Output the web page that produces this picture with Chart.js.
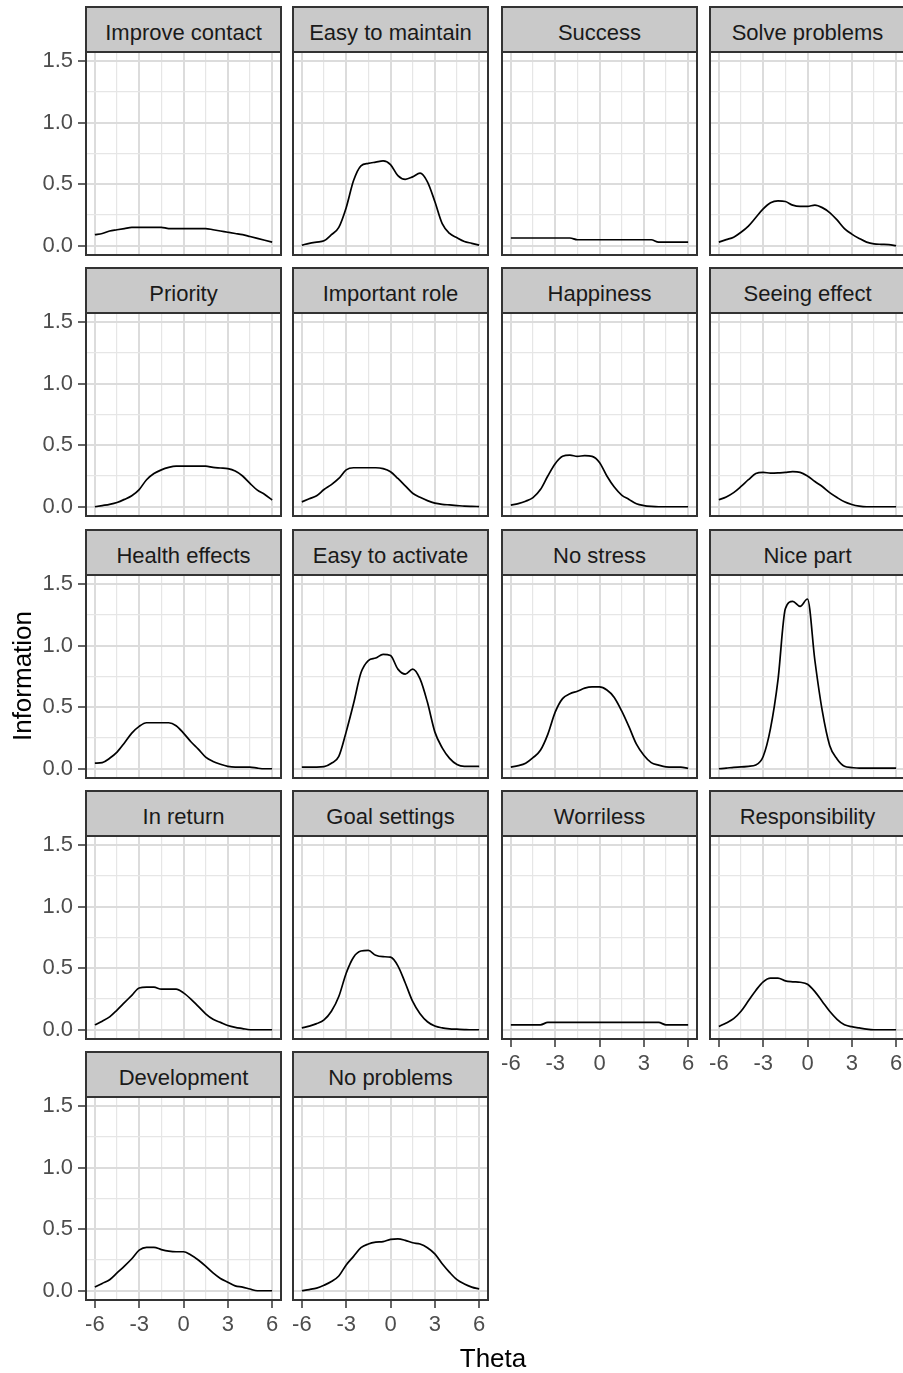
<!DOCTYPE html>
<html><head><meta charset="utf-8">
<script src="https://cdn.jsdelivr.net/npm/chart.js@4.4.0/dist/chart.umd.min.js"></script>
<style>
html,body{margin:0;padding:0;background:#fff;overflow:hidden;}
body{width:903px;height:1373px;position:relative;font-family:"Liberation Sans",Arial,sans-serif;}
.strip{position:absolute;box-sizing:border-box;border:2px solid #333;background:#C9C9C9;color:#1A1A1A;font-size:22px;text-align:center;line-height:43px;padding-top:3px;white-space:nowrap;overflow:visible;}
canvas{position:absolute;}
.title{position:absolute;color:#000;font-size:26px;line-height:30px;white-space:nowrap;text-align:center;}
</style></head><body>
<script>
// ---- data ----
const theta = [-6,-5.5,-5,-4.5,-4,-3.5,-3,-2.5,-2,-1.5,-1,-0.5,0,0.5,1,1.5,2,2.5,3,3.5,4,4.5,5,5.5,6];

const improveContact = [0.09,0.10,0.12,0.13,0.14,0.15,0.15,0.15,0.15,0.15,0.14,0.14,0.14,0.14,0.14,0.14,0.13,0.12,0.11,0.10,0.09,0.075,0.06,0.045,0.03];
const easyToMaintain = [0.005,0.02,0.03,0.04,0.09,0.15,0.31,0.53,0.65,0.67,0.68,0.69,0.66,0.57,0.54,0.56,0.59,0.52,0.36,0.18,0.10,0.065,0.035,0.02,0.005];
const success        = [0.063,0.063,0.063,0.063,0.063,0.063,0.063,0.063,0.063,0.049,0.049,0.049,0.049,0.049,0.049,0.049,0.049,0.049,0.049,0.049,0.03,0.03,0.03,0.03,0.03];
const solveProblems  = [0.03,0.05,0.07,0.11,0.16,0.23,0.30,0.35,0.365,0.36,0.33,0.32,0.32,0.33,0.31,0.27,0.21,0.14,0.095,0.06,0.03,0.015,0.012,0.01,0.0];
const priority       = [0.0,0.01,0.02,0.035,0.06,0.09,0.14,0.22,0.27,0.30,0.32,0.33,0.33,0.33,0.33,0.33,0.32,0.315,0.31,0.29,0.25,0.19,0.135,0.10,0.055];
const importantRole  = [0.04,0.065,0.09,0.14,0.18,0.23,0.30,0.317,0.317,0.317,0.317,0.31,0.285,0.23,0.17,0.11,0.077,0.05,0.03,0.02,0.015,0.01,0.005,0.003,0.002];
const happiness      = [0.014,0.025,0.045,0.075,0.14,0.25,0.35,0.41,0.42,0.41,0.415,0.41,0.36,0.25,0.16,0.095,0.06,0.025,0.01,0.003,0,0,0,0,0];
const seeingEffect   = [0.057,0.08,0.115,0.165,0.22,0.27,0.28,0.273,0.275,0.28,0.285,0.28,0.25,0.205,0.165,0.115,0.075,0.04,0.018,0.005,0,0,0,0,0];
const healthEffects  = [0.046,0.05,0.085,0.135,0.21,0.29,0.345,0.374,0.374,0.374,0.374,0.35,0.29,0.22,0.16,0.095,0.06,0.037,0.02,0.014,0.014,0.014,0.005,0,0];
const easyToActivate = [0.014,0.014,0.014,0.017,0.045,0.10,0.30,0.53,0.78,0.88,0.90,0.93,0.92,0.81,0.77,0.81,0.73,0.54,0.30,0.17,0.085,0.035,0.02,0.02,0.02];
const noStress       = [0.014,0.025,0.045,0.09,0.15,0.28,0.46,0.57,0.61,0.63,0.655,0.665,0.665,0.64,0.58,0.47,0.34,0.2,0.11,0.05,0.03,0.016,0.014,0.014,0.002];
const nicePart       = [0,0.005,0.012,0.015,0.02,0.03,0.1,0.33,0.72,1.30,1.36,1.32,1.38,0.88,0.47,0.19,0.08,0.02,0.01,0.005,0.005,0.005,0.005,0.005,0.005];
const inReturn       = [0.04,0.07,0.105,0.16,0.22,0.28,0.34,0.346,0.346,0.33,0.33,0.33,0.30,0.25,0.19,0.13,0.085,0.06,0.035,0.02,0.01,0.0,0,0,0];
const goalSettings   = [0.014,0.03,0.05,0.08,0.15,0.27,0.46,0.59,0.64,0.645,0.605,0.594,0.59,0.52,0.38,0.23,0.13,0.065,0.03,0.015,0.008,0.005,0.002,0,0];
const worriless      = [0.04,0.04,0.04,0.04,0.04,0.06,0.06,0.06,0.06,0.06,0.06,0.06,0.06,0.06,0.06,0.06,0.06,0.06,0.06,0.06,0.06,0.04,0.04,0.04,0.04];
const responsibility = [0.027,0.055,0.09,0.15,0.235,0.32,0.39,0.42,0.42,0.397,0.39,0.386,0.37,0.31,0.23,0.15,0.085,0.04,0.025,0.015,0.005,0,0,0,0];
const development    = [0.03,0.06,0.09,0.145,0.20,0.26,0.33,0.353,0.353,0.335,0.322,0.317,0.317,0.29,0.25,0.20,0.145,0.10,0.07,0.04,0.03,0.014,0,0,0];
const noProblems     = [0,0.01,0.022,0.045,0.075,0.12,0.21,0.28,0.35,0.38,0.395,0.40,0.418,0.422,0.41,0.39,0.38,0.35,0.30,0.22,0.15,0.09,0.055,0.03,0.014];

const panelTitles = ["Improve contact","Easy to maintain","Success","Solve problems",
  "Priority","Important role","Happiness","Seeing effect",
  "Health effects","Easy to activate","No stress","Nice part",
  "In return","Goal settings","Worriless","Responsibility",
  "Development","No problems"];
const panelSeries = [improveContact,easyToMaintain,success,solveProblems,
  priority,importantRole,happiness,seeingEffect,
  healthEffects,easyToActivate,noStress,nicePart,
  inReturn,goalSettings,worriless,responsibility,
  development,noProblems];

const xTickValues = [-6,-4.5,-3,-1.5,0,1.5,3,4.5,6];
const xTickLabels = ["-6","","-3","","0","","3","","6"];
const yTickValues = [0,0.25,0.5,0.75,1,1.25,1.5];
const yTickLabels = ["0.0","","0.5","","1.0","","1.5"];
const xTitle = "Theta";
const yTitle = "Information";

// ---- layout ----
const colLeft = [86,293,502,710];
const rowStripTop = [7,268,530,791,1052];
const STRIP_H = 45, PW = 195, PH = 203;
const PADL = 86, PADR = 20, PADT = 30, PADB = 46;
const FONT = '"Liberation Sans", Arial, sans-serif';

const panelPlugin = {
  id: 'panelFrame',
  beforeDraw(chart){
    const {ctx, chartArea:a} = chart;
    ctx.save(); ctx.fillStyle = '#fff';
    ctx.fillRect(a.left, a.top, a.right-a.left, a.bottom-a.top); ctx.restore();
  },
  afterDraw(chart){
    const {ctx, chartArea:a} = chart;
    ctx.save(); ctx.strokeStyle = '#333'; ctx.lineWidth = 2;
    ctx.strokeRect(a.left, a.top, a.right-a.left, a.bottom-a.top); ctx.restore();
  }
};

function majorIdx(i){ return i % 2 === 0; }

panelTitles.forEach((title, idx) => {
  const col = idx % 4, row = Math.floor(idx / 4);
  const L = colLeft[col];
  const stripTop = rowStripTop[row];
  const plotTop = stripTop + STRIP_H;
  const showY = col === 0;
  const showX = row === 4 || (row === 3 && col >= 2);

  const strip = document.createElement('div');
  strip.className = 'strip';
  strip.style.left = (L - 1) + 'px';
  strip.style.top = (stripTop - 1) + 'px';
  strip.style.width = (PW + 2) + 'px';
  strip.style.height = (STRIP_H + 2) + 'px';
  strip.textContent = title;
  document.body.appendChild(strip);

  const cv = document.createElement('canvas');
  const W = PADL + PW + PADR, H = PADT + PH + PADB;
  cv.width = W; cv.height = H;
  cv.style.left = (L - PADL) + 'px'; cv.style.top = (plotTop - PADT) + 'px';
  cv.style.width = W + 'px'; cv.style.height = H + 'px';
  document.body.appendChild(cv);

  const series = panelSeries[idx];
  new Chart(cv, {
    type: 'line',
    data: { datasets: [{
      data: theta.map((t, i) => ({x: t, y: series[i]})),
      borderColor: '#000', borderWidth: 1.7, pointRadius: 0,
      tension: 0.4, cubicInterpolationMode: 'monotone', fill: false
    }]},
    options: {
      responsive: false, animation: false, events: [],
      layout: { padding: { top: PADT, right: PADR, left: 0, bottom: 0 } },
      plugins: { legend: {display: false}, tooltip: {enabled: false}, title: {display: false} },
      scales: {
        x: {
          type: 'linear', min: -6.6, max: 6.6,
          afterBuildTicks: s => { s.ticks = xTickValues.map(v => ({value: v})); },
          afterFit: s => { s.height = PADB; },
          border: { display: false },
          grid: {
            color: c => majorIdx(c.index) ? '#DCDCDC' : '#E6E6E6',
            lineWidth: c => majorIdx(c.index) ? 2 : 1.2,
            drawTicks: showX, tickLength: 8,
            tickColor: c => majorIdx(c.index) ? '#333' : 'rgba(0,0,0,0)',
            tickWidth: 1.5
          },
          ticks: {
            display: showX, autoSkip: false, maxRotation: 0, minRotation: 0,
            padding: 4, color: '#4D4D4D', font: {family: FONT, size: 22},
            callback: (v, i) => xTickLabels[i]
          }
        },
        y: {
          type: 'linear', min: -0.075, max: 1.575,
          afterBuildTicks: s => { s.ticks = yTickValues.map(v => ({value: v})); },
          afterFit: s => { s.width = PADL; },
          border: { display: false },
          grid: {
            color: c => majorIdx(c.index) ? '#DCDCDC' : '#E6E6E6',
            lineWidth: c => majorIdx(c.index) ? 2 : 1.2,
            drawTicks: showY, tickLength: 8,
            tickColor: c => majorIdx(c.index) ? '#333' : 'rgba(0,0,0,0)',
            tickWidth: 1.5
          },
          ticks: {
            display: showY, autoSkip: false,
            padding: 5, color: '#4D4D4D', font: {family: FONT, size: 22},
            callback: (v, i) => yTickLabels[i]
          }
        }
      }
    },
    plugins: [panelPlugin]
  });
});

const xt = document.createElement('div');
xt.className = 'title';
xt.style.left = '393px'; xt.style.top = '1343px'; xt.style.width = '200px';
xt.textContent = xTitle;
document.body.appendChild(xt);

const yt = document.createElement('div');
yt.className = 'title';
yt.style.left = (22 - 100) + 'px'; yt.style.top = (676 - 15) + 'px'; yt.style.width = '200px';
yt.style.transform = 'rotate(-90deg)';
yt.textContent = yTitle;
document.body.appendChild(yt);
</script>
</body></html>
